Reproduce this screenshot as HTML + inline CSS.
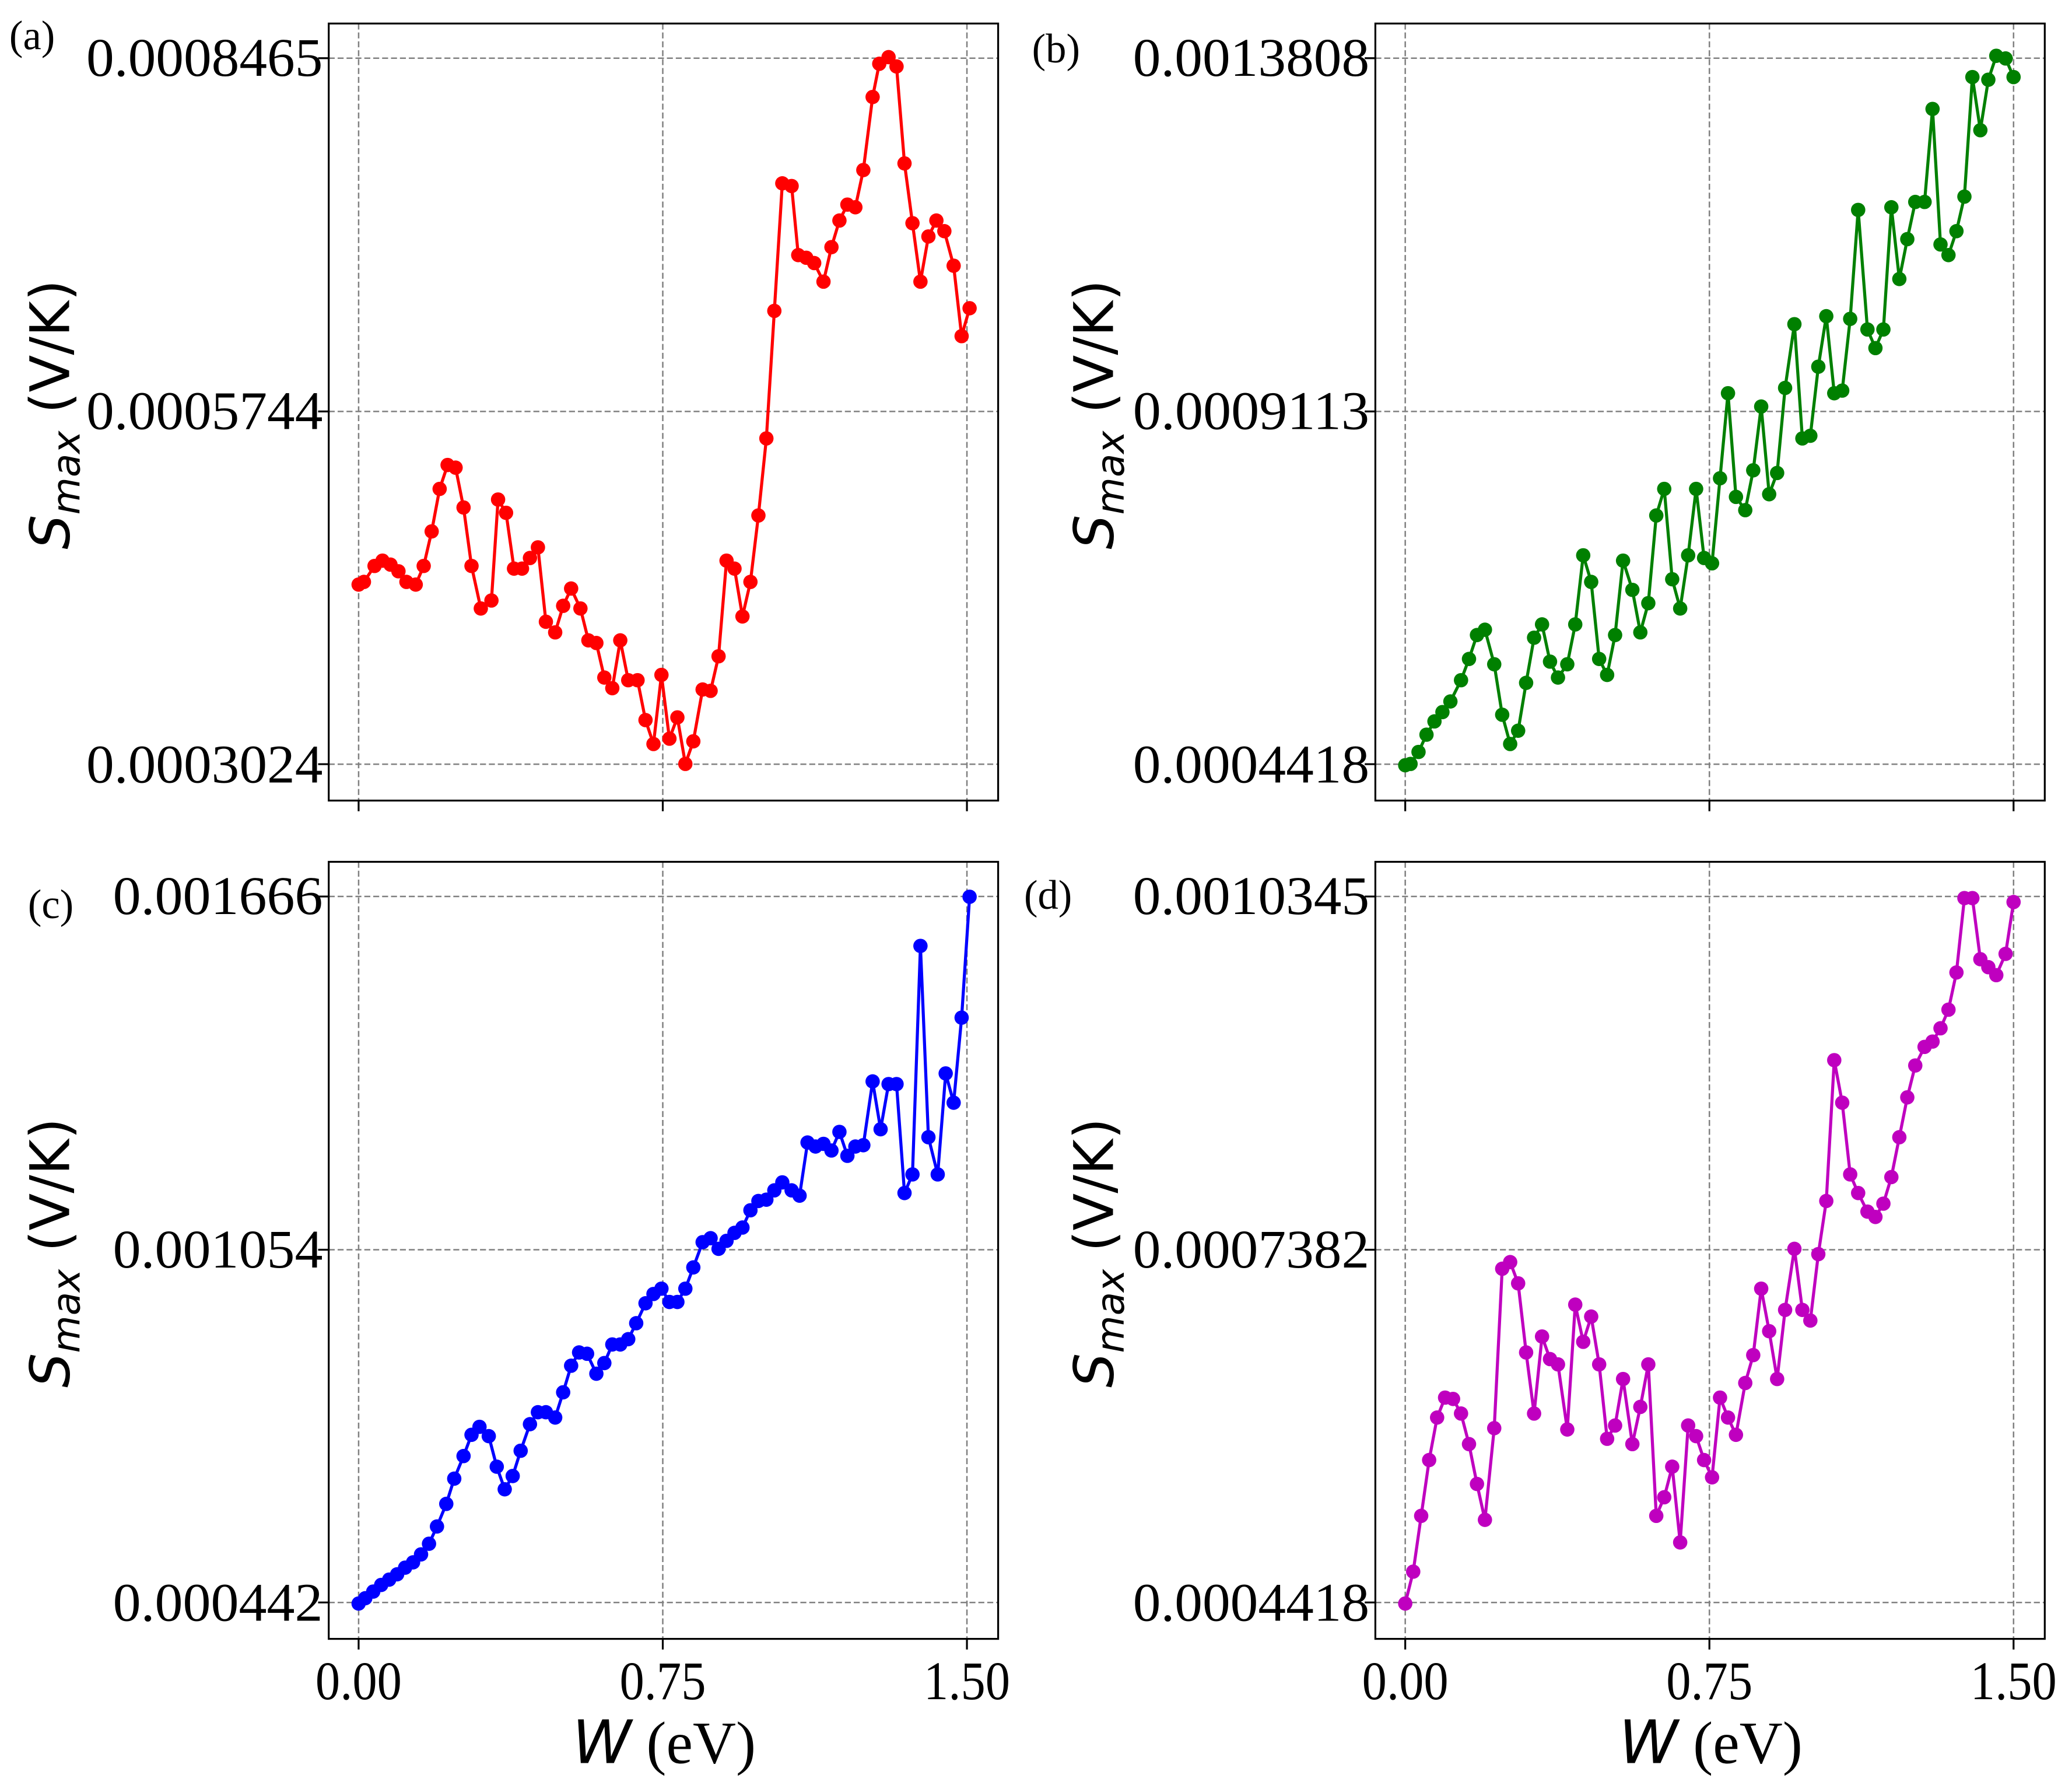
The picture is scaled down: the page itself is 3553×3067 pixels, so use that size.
<!DOCTYPE html>
<html><head><meta charset="utf-8"><style>html,body{margin:0;padding:0;background:#fff}svg{display:block}</style></head><body>
<svg xmlns="http://www.w3.org/2000/svg" width="3553" height="3067" viewBox="0 0 1560 1346.6">
<defs>
<marker id="mr" markerUnits="userSpaceOnUse" markerWidth="14" markerHeight="14" refX="7" refY="7"><circle cx="7" cy="7" r="5.4" fill="#ff0000"/></marker>
<marker id="mg" markerUnits="userSpaceOnUse" markerWidth="14" markerHeight="14" refX="7" refY="7"><circle cx="7" cy="7" r="5.4" fill="#008000"/></marker>
<marker id="mb" markerUnits="userSpaceOnUse" markerWidth="14" markerHeight="14" refX="7" refY="7"><circle cx="7" cy="7" r="5.4" fill="#0000ff"/></marker>
<marker id="mm" markerUnits="userSpaceOnUse" markerWidth="14" markerHeight="14" refX="7" refY="7"><circle cx="7" cy="7" r="5.4" fill="#bf00bf"/></marker>
</defs>
<rect width="1560" height="1346.6" fill="#fff"/>
<g stroke="#808080" stroke-width="1.1" stroke-dasharray="4.5,2.2" fill="none">
<path d="M270,17.7V602.6M499,17.7V602.6M728,17.7V602.6M247.5,43.8H751.5M247.5,309.7H751.5M247.5,575.2H751.5"/>
<path d="M1058,17.7V602.6M1287,17.7V602.6M1516,17.7V602.6M1035.5,43.8H1539.5M1035.5,309.7H1539.5M1035.5,575.2H1539.5"/>
<path d="M270,648.7V1233.6M499,648.7V1233.6M728,648.7V1233.6M247.5,674.8H751.5M247.5,940.7H751.5M247.5,1206.2H751.5"/>
<path d="M1058,648.7V1233.6M1287,648.7V1233.6M1516,648.7V1233.6M1035.5,674.8H1539.5M1035.5,940.7H1539.5M1035.5,1206.2H1539.5"/>
</g>
<g stroke="#000" stroke-width="1.4" fill="none">
<rect x="247.5" y="17.7" width="504" height="584.9"/>
<rect x="1035.5" y="17.7" width="504" height="584.9"/>
<rect x="247.5" y="648.7" width="504" height="584.9"/>
<rect x="1035.5" y="648.7" width="504" height="584.9"/>
<path d="M270,602.6v8M499,602.6v8M728,602.6v8M1058,602.6v8M1287,602.6v8M1516,602.6v8M270,1233.6v8M499,1233.6v8M728,1233.6v8M1058,1233.6v8M1287,1233.6v8M1516,1233.6v8"/>
<path d="M247.5,43.8h-8M247.5,309.7h-8M247.5,575.2h-8M1035.5,43.8h-8M1035.5,309.7h-8M1035.5,575.2h-8M247.5,674.8h-8M247.5,940.7h-8M247.5,1206.2h-8M1035.5,674.8h-8M1035.5,940.7h-8M1035.5,1206.2h-8"/>
</g>
<g fill="none" stroke-width="2.3" stroke-linejoin="round">
<polyline stroke="#ff0000" marker-start="url(#mr)" marker-mid="url(#mr)" marker-end="url(#mr)" points="270,440 274,438 282,426 288,422 294,425 300,430 306,438 313,440 319,426 325,400 331,368 337,350 343,352 349,382 355,426 362,458 370,452 375,376 381,386 387,428 393,428 399,420 405,412 411,468 418,476 424,456 430,443 437,458 443,482 449,484 455,510 461,518 467,482 473,512 480,512 486,542 492,560 498,508 504,556 510,540 516,575 522,558 529,519 535,520 541,494 547,422 553,428 559,464 565,438 571,388 577,330 583,234 589,138 596,140 601,192 607,194 613,198 620,212 626,186 632,166 638,154 644,156 650,128 657,73 662,48 669,43 675,50 681,123 687,168 693,212 699,178 705,166 711,174 718,200 724,253 730,232"/>
<polyline stroke="#008000" marker-start="url(#mg)" marker-mid="url(#mg)" marker-end="url(#mg)" points="1058,576 1062,575 1068,566 1074,553 1080,543 1086,536 1092,528 1100,512 1106,496 1112,478 1118,474 1125,500 1131,538 1137,560 1143,550 1149,514 1155,480 1161,470 1167,498 1173,510 1180,500 1186,470 1192,418 1198,438 1204,496 1210,508 1216,478 1222,422 1229,444 1235,476 1241,454 1247,388 1253,368 1259,436 1265,458 1271,418 1277,368 1283,420 1289,424 1295,360 1301,296 1307,374 1314,384 1320,354 1326,306 1332,372 1338,356 1344,292 1351,244 1357,330 1363,328 1369,276 1375,238 1381,296 1387,294 1393,240 1399,158 1406,248 1412,262 1418,248 1424,156 1430,210 1436,180 1442,152 1449,152 1455,82 1461,184 1467,192 1473,174 1479,148 1485,58 1491,98 1497,60 1503,42 1510,44 1516,58"/>
<polyline stroke="#0000ff" marker-start="url(#mb)" marker-mid="url(#mb)" marker-end="url(#mb)" points="270,1207 275,1203 281,1198 287,1193 293,1189 299,1185 305,1180 311,1176 317,1170 323,1162 329,1149 336,1132 342,1113 349,1096 355,1080 361,1074 368,1081 374,1104 380,1121 386,1111 392,1092 399,1072 405,1063 411,1063 418,1067 424,1048 430,1028 436,1018 442,1019 449,1034 455,1026 461,1012 467,1012 473,1008 479,996 486,981 492,974 498,970 504,980 510,980 516,970 522,954 529,935 535,932 541,940 547,934 553,928 559,924 565,911 571,904 577,903 583,896 589,890 596,896 602,900 608,860 614,863 620,861 626,866 632,852 638,870 644,863 650,862 657,814 663,850 669,816 675,816 681,898 687,884 693,712 699,856 706,884 712,808 718,830 724,766 730,675"/>
<polyline stroke="#bf00bf" marker-start="url(#mm)" marker-mid="url(#mm)" marker-end="url(#mm)" points="1058,1207 1064,1183 1070,1141 1076,1099 1082,1067 1088,1052 1094,1053 1100,1064 1106,1087 1112,1117 1118,1144 1125,1075 1131,955 1137,950 1143,966 1149,1018 1155,1064 1161,1006 1167,1023 1173,1027 1180,1076 1186,982 1192,1010 1198,991 1204,1027 1210,1083 1216,1073 1222,1038 1229,1087 1235,1059 1241,1027 1247,1141 1253,1127 1259,1104 1265,1161 1271,1073 1277,1081 1283,1099 1289,1112 1295,1052 1301,1067 1307,1080 1314,1041 1320,1020 1326,970 1332,1002 1338,1038 1344,986 1351,940 1357,986 1363,994 1369,944 1375,904 1381,798 1387,830 1393,884 1399,898 1406,912 1412,916 1418,906 1424,886 1430,856 1436,826 1442,802 1449,788 1455,784 1461,774 1467,760 1473,732 1479,676 1485,676 1491,722 1497,728 1503,734 1510,718 1516,679"/>
</g>
<g font-family="Liberation Serif, serif" font-size="41" fill="#000">
<g text-anchor="end">
<text x="243" y="57" textLength="178" lengthAdjust="spacingAndGlyphs">0.0008465</text>
<text x="243" y="323" textLength="178" lengthAdjust="spacingAndGlyphs">0.0005744</text>
<text x="243" y="589" textLength="178" lengthAdjust="spacingAndGlyphs">0.0003024</text>
<text x="1031" y="57" textLength="178" lengthAdjust="spacingAndGlyphs">0.0013808</text>
<text x="1031" y="323" textLength="178" lengthAdjust="spacingAndGlyphs">0.0009113</text>
<text x="1031" y="589" textLength="178" lengthAdjust="spacingAndGlyphs">0.0004418</text>
<text x="243" y="688" textLength="158" lengthAdjust="spacingAndGlyphs">0.001666</text>
<text x="243" y="954" textLength="158" lengthAdjust="spacingAndGlyphs">0.001054</text>
<text x="243" y="1220" textLength="158" lengthAdjust="spacingAndGlyphs">0.000442</text>
<text x="1031" y="688" textLength="178" lengthAdjust="spacingAndGlyphs">0.0010345</text>
<text x="1031" y="954" textLength="178" lengthAdjust="spacingAndGlyphs">0.0007382</text>
<text x="1031" y="1220" textLength="178" lengthAdjust="spacingAndGlyphs">0.0004418</text>
</g>
<g text-anchor="middle">
<text x="270" y="1279" textLength="65" lengthAdjust="spacingAndGlyphs">0.00</text><text x="499" y="1279" textLength="65" lengthAdjust="spacingAndGlyphs">0.75</text><text x="728" y="1279" textLength="65" lengthAdjust="spacingAndGlyphs">1.50</text>
<text x="1058" y="1279" textLength="65" lengthAdjust="spacingAndGlyphs">0.00</text><text x="1287" y="1279" textLength="65" lengthAdjust="spacingAndGlyphs">0.75</text><text x="1516" y="1279" textLength="65" lengthAdjust="spacingAndGlyphs">1.50</text>
</g>
<g font-size="31">
<text x="7" y="37">(a)</text><text x="777" y="47">(b)</text><text x="21" y="691">(c)</text><text x="771" y="684">(d)</text>
</g>
<text x="500" y="1327" text-anchor="middle" font-size="45"><tspan font-family="DejaVu Sans, sans-serif" font-style="italic">W</tspan> (eV)</text>
<text x="1288" y="1327" text-anchor="middle" font-size="45"><tspan font-family="DejaVu Sans, sans-serif" font-style="italic">W</tspan> (eV)</text>
</g>
<g font-family="DejaVu Sans, sans-serif" font-size="41" fill="#000" text-anchor="middle">
<text transform="translate(52,312) rotate(-90)"><tspan font-style="italic">S</tspan><tspan font-style="italic" font-size="29" dy="8">max</tspan><tspan dy="-8"> (V/K)</tspan></text>
<text transform="translate(838,312) rotate(-90)"><tspan font-style="italic">S</tspan><tspan font-style="italic" font-size="29" dy="8">max</tspan><tspan dy="-8"> (V/K)</tspan></text>
<text transform="translate(52,943) rotate(-90)"><tspan font-style="italic">S</tspan><tspan font-style="italic" font-size="29" dy="8">max</tspan><tspan dy="-8"> (V/K)</tspan></text>
<text transform="translate(838,943) rotate(-90)"><tspan font-style="italic">S</tspan><tspan font-style="italic" font-size="29" dy="8">max</tspan><tspan dy="-8"> (V/K)</tspan></text>
</g>
</svg>
</body></html>
